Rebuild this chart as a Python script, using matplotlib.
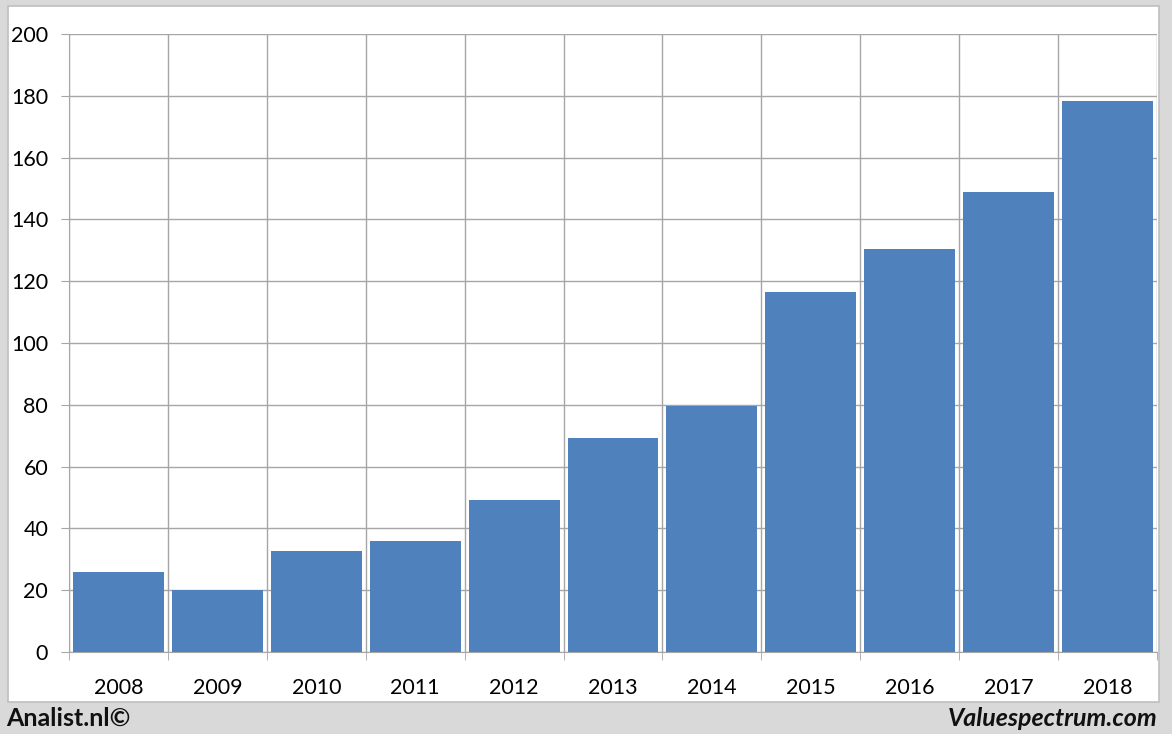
import matplotlib
matplotlib.use("Agg")
import matplotlib.pyplot as plt
from matplotlib.patches import Rectangle

years = ["2008", "2009", "2010", "2011", "2012", "2013", "2014", "2015", "2016", "2017", "2018"]
values = [26, 20, 32.7, 35.9, 49.2, 69.3, 79.6, 116.5, 130.4, 148.9, 178.3]
yticks = [0, 20, 40, 60, 80, 100, 120, 140, 160, 180, 200]

plt.rcParams['font.family'] = ['Lato', 'DejaVu Sans']

W, H = 1172, 734
fig = plt.figure(figsize=(W / 100, H / 100), dpi=100)
fig.patch.set_facecolor('#D9D9D9')

panel = Rectangle((8 / W, 1 - 702 / H), (1159 - 8) / W, (702 - 6) / H,
                  transform=fig.transFigure, facecolor='white', edgecolor='#BFBFBF',
                  linewidth=1.2, zorder=-5)
fig.patches.append(panel)

ax = fig.add_axes([69 / W, 1 - 652 / H, (1157 - 69) / W, (652 - 34) / H])
ax.set_zorder(1)
ax.set_facecolor('white')
x = list(range(len(years)))
ax.bar(x, values, width=0.92, color='#4F81BD', zorder=3)

ax.set_xlim(-0.5, len(years) - 0.5)
ax.set_ylim(0, 200)
ax.set_yticks(yticks)
ax.set_yticklabels([str(v) for v in yticks], fontsize=15.5, color='black')
ax.set_xticks(x)
ax.set_xticklabels(years, fontsize=15.5, color='black')
ax.tick_params(axis='x', length=0, pad=19)
ax.tick_params(axis='y', length=6, color='#A6A6A6', pad=9)
bounds = [i - 0.5 for i in range(len(years) + 1)]
ax.set_xticks(bounds, minor=True)
ax.tick_params(axis='x', which='minor', length=6, color='#A6A6A6')
ax.grid(axis='y', which='major', color='#A6A6A6', linewidth=1, zorder=1)
ax.grid(axis='x', which='minor', color='#A6A6A6', linewidth=1, zorder=1)
for s in ['top', 'right']:
    ax.spines[s].set_visible(False)
ax.spines['left'].set_color('#A6A6A6')
ax.spines['bottom'].set_color('#A6A6A6')

fig.text(6 / W, 1 - 718 / H, "Analist.nl©", fontsize=18, fontweight='bold',
         ha='left', va='center', color='#111111')
fig.text(1158 / W, 1 - 718 / H, "Valuespectrum.com", fontsize=18, fontweight='bold',
         style='italic', ha='right', va='center', color='#111111')

fig.savefig("out.png", dpi=100, facecolor=fig.get_facecolor())
